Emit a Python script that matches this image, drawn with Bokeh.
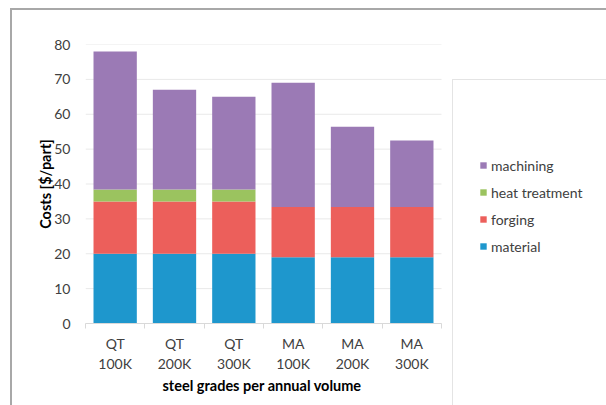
from bokeh.plotting import figure
from bokeh.models import FixedTicker, Legend, LegendItem, InlineStyleSheet, Title
from bokeh.embed import file_html
from bokeh.resources import INLINE

categories = ["QT\n100K", "QT\n200K", "QT\n300K", "MA\n100K", "MA\n200K", "MA\n300K"]
series = ["material", "forging", "heat treatment", "machining"]
material = [20, 20, 20, 19, 19, 19]
forging = [15, 15, 15, 14.4, 14.4, 14.4]
heat_treatment = [3.4, 3.4, 3.4, 0, 0, 0]
machining = [39.6, 28.6, 26.6, 35.6, 23.0, 19.1]
colors = ["#1e97cd", "#ec5f5b", "#9bc35f", "#9b7ab5"]
y_ticks = [0, 10, 20, 30, 40, 50, 60, 70, 80]
x_title = "steel grades per annual volume"
y_title = "Costs [$/part]"

FONT = "Lato"
TXT = "#404040"

n = len(categories)
x = [i + 0.5 for i in range(n)]
data = {"x": x, "material": material, "forging": forging,
        "heat treatment": heat_treatment, "machining": machining}

FRAME_L, FRAME_R_CAT = 85, 441        # plot area of the categories
x_end = n * (606 - FRAME_L) / (FRAME_R_CAT - FRAME_L)

p = figure(width=606, height=405, output_backend="svg", toolbar_location=None,
           x_range=(0, x_end), y_range=(0, 80),
           min_border_left=FRAME_L, min_border_right=0, min_border_top=44,
           min_border_bottom=82)
p.outline_line_color = None
p.background_fill_color = None
p.border_fill_color = None

# gridlines limited to the category area
p.segment(x0=0, x1=n, y0=y_ticks, y1=y_ticks, line_color="#e9e9e9", line_width=1)

rs = p.vbar_stack(series, x="x", width=0.73, source=data, color=colors,
                  line_color=None)

# axes
p.xaxis.ticker = FixedTicker(ticks=x, minor_ticks=list(range(n + 1)))
p.xaxis.bounds = (0, n)
p.xaxis.major_label_overrides = {xi: c for xi, c in zip(x, categories)}
p.xaxis.major_tick_line_color = None
p.xaxis.minor_tick_line_color = "#d9d9d9"
p.xaxis.minor_tick_out = 5
p.xaxis.minor_tick_in = 0
p.xaxis.axis_line_color = "#d9d9d9"
p.xaxis.major_label_text_font = FONT
p.xaxis.major_label_text_font_size = "14px"
p.xaxis.major_label_text_color = TXT
p.xaxis.major_label_text_line_height = 1.2
p.xaxis.major_label_standoff = 5

# x title centred under the category area
p.add_layout(Title(text=x_title, align="left", offset=77,
                   text_font=FONT, text_font_style="bold",
                   text_font_size="14.5px", text_color="#000000",
                   standoff=0), "below")

p.yaxis.ticker = FixedTicker(ticks=y_ticks)
p.yaxis.axis_line_color = None
p.yaxis.major_tick_line_color = None
p.yaxis.major_tick_out = 0
p.yaxis.major_tick_in = 0
p.yaxis.minor_tick_line_color = None
p.yaxis.major_label_standoff = 15
p.yaxis.major_label_text_font = FONT
p.yaxis.major_label_text_font_size = "14px"
p.yaxis.major_label_text_color = TXT
p.yaxis.axis_label = y_title
p.yaxis.axis_label_text_font = FONT
p.yaxis.axis_label_text_font_style = "bold"
p.yaxis.axis_label_text_font_size = "14.5px"
p.yaxis.axis_label_text_color = "#000000"
p.yaxis.axis_label_standoff = -3

p.grid.grid_line_color = None

items = [LegendItem(label=s, renderers=[r]) for s, r in zip(series, rs)][::-1]
legend = Legend(items=items, location=(394, 67), orientation="vertical",
                glyph_width=8, glyph_height=8, label_height=20, spacing=7,
                padding=0, margin=0, label_standoff=4,
                label_text_font=FONT, label_text_font_size="14px",
                label_text_color=TXT, border_line_color=None,
                background_fill_alpha=0)
p.add_layout(legend, "center")

# outer chart border and legend-area border (drawn by the page's stylesheet)
p.stylesheets = [InlineStyleSheet(css="""
:host::before { content: ""; position: absolute; left: 10px; top: 8px;
  width: 700px; height: 500px; border: 2px solid #a8a8a8; box-sizing: border-box;
  pointer-events: none; z-index: 5; }
:host::after { content: ""; position: absolute; left: 452px; top: 79px;
  width: 300px; height: 400px; border: 1px solid #e4e4e4; box-sizing: border-box;
  pointer-events: none; z-index: 5; }
""")]

open("out.html", "w").write(file_html(p, INLINE))
